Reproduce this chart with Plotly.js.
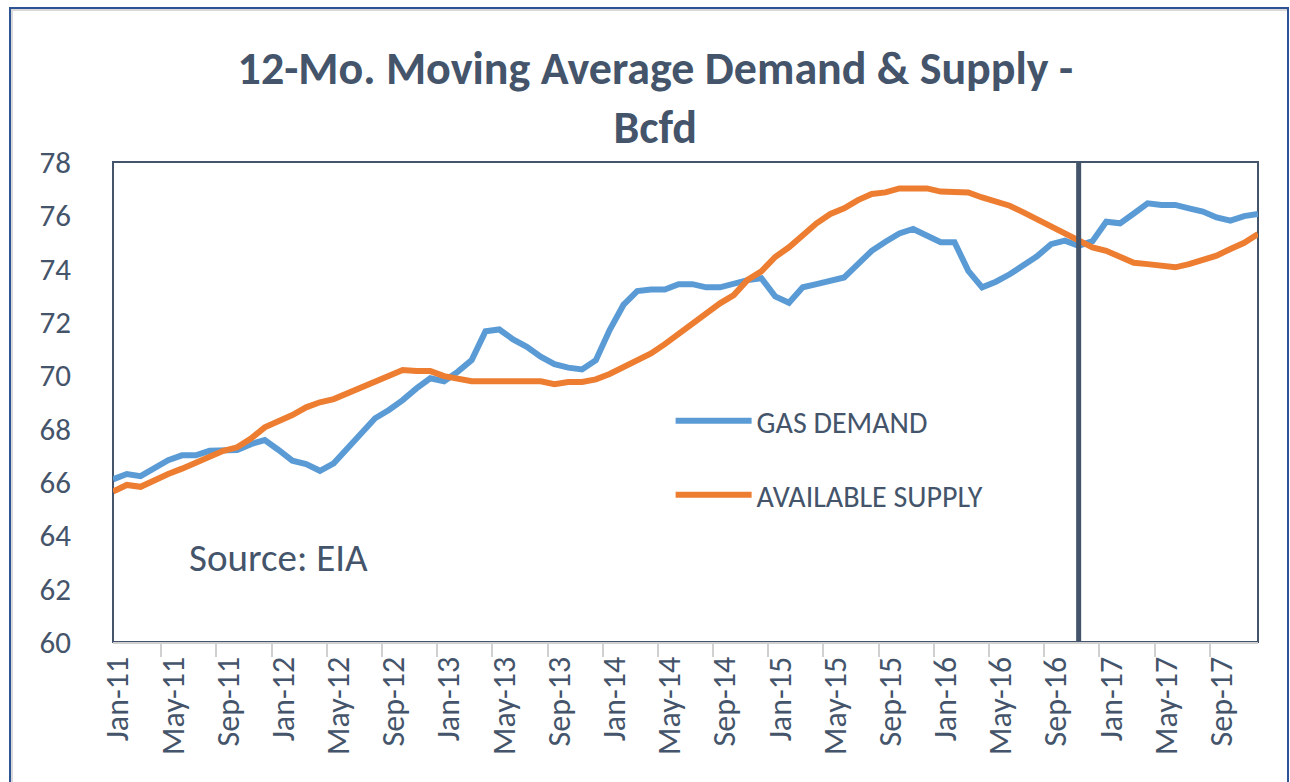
<!DOCTYPE html>
<html>
<head>
<meta charset="utf-8">
<script src="https://cdn.plot.ly/plotly-3.0.1.min.js"></script>
<style>
  html, body { margin: 0; padding: 0; background: #ffffff; }
  #frame { position: absolute; left: 9px; top: 7px; width: 1276px; height: 790px;
           border-left: 2px solid #2F5496; border-top: 2px solid #2F5496; border-right: 2px solid #2F5496;
           box-shadow: inset 2px 2px 0 #d9d9d9; }
  #chart { position: absolute; left: 0; top: 0; width: 1290px; height: 782px; }
</style>
</head>
<body>
<div id="frame"></div>
<div id="chart"></div>
<script>
// ---- data ----
const monthNames = ["Jan","Feb","Mar","Apr","May","Jun","Jul","Aug","Sep","Oct","Nov","Dec"];
const years = ["11","12","13","14","15","16","17"];
const months = [];
years.forEach(y => monthNames.forEach(m => months.push(m + "-" + y)));

const gasDemand = [
  66.10, 66.30, 66.22, 66.50, 66.82, 67.00, 67.00, 67.17, 67.17, 67.20, 67.42, 67.57,
  67.20, 66.80, 66.67, 66.42, 66.70, 67.26, 67.82, 68.39, 68.70, 69.07, 69.51, 69.89,
  69.78, 70.14, 70.57, 71.65, 71.72, 71.35, 71.07, 70.70, 70.42, 70.29, 70.22, 70.57,
  71.70, 72.64, 73.16, 73.22, 73.22, 73.42, 73.42, 73.30, 73.30, 73.45, 73.57, 73.64,
  72.96, 72.72, 73.30, 73.42, 73.55, 73.67, 74.17, 74.67, 75.01, 75.32, 75.49, 75.24,
  74.99, 74.99, 73.92, 73.30, 73.51, 73.79, 74.10, 74.47, 74.92, 75.05, 74.86, 75.03,
  75.76, 75.70, 76.07, 76.45, 76.39, 76.39, 76.26, 76.14, 75.92, 75.80, 75.97, 76.05
];
const availableSupply = [
  65.64, 65.89, 65.82, 66.07, 66.30, 66.50, 66.74, 66.95, 67.17, 67.30, 67.63, 68.05,
  68.26, 68.51, 68.80, 68.99, 69.11, 69.33, 69.51, 69.76, 69.95, 70.20, 70.16, 70.16,
  69.97, 69.85, 69.78, 69.78, 69.78, 69.78, 69.78, 69.78, 69.67, 69.75, 69.75, 69.85,
  70.05, 70.30, 70.55, 70.82, 71.17, 71.55, 71.89, 72.29, 72.70, 73.01, 73.58, 73.90,
  74.44, 74.80, 75.28, 75.70, 76.05, 76.26, 76.57, 76.80, 76.86, 77.01, 77.01, 77.01,
  76.89, 76.86, 76.86, 76.67, 76.49, 76.36, 76.11, 75.85, 75.59, 75.31, 75.03, 74.80,
  74.67, 74.47, 74.22, 74.17, 74.11, 74.05, 74.17, 74.36, 74.49, 74.74, 74.97, 75.30
];
const seriesNames = ["GAS DEMAND", "AVAILABLE SUPPLY"];
const markerMonth = "Nov-16";
const titleText = "12-Mo. Moving Average Demand &amp; Supply -<br>Bcfd";
const sourceText = "Source: EIA";

// ---- styling ----
const FONT = "Carlito, Calibri, Lato, sans-serif";
const TXT = "#44546A";

const traces = [
  { x: months, y: gasDemand, type: "scatter", mode: "lines", name: seriesNames[0],
    legendgroup: "a", line: { color: "#5B9BD5", width: 6 } },
  { x: months, y: availableSupply, type: "scatter", mode: "lines", name: seriesNames[1],
    legendgroup: "b", line: { color: "#ED7D31", width: 6 } }
];

const layout = {
  width: 1290, height: 782,
  paper_bgcolor: "rgba(0,0,0,0)", plot_bgcolor: "#ffffff",
  margin: { l: 113, r: 32, t: 162, b: 140, pad: 0 },
  font: { family: FONT, color: TXT },
  title: { text: titleText, font: { family: FONT, size: 46, color: TXT, weight: "bold" },
           xref: "container", x: 0.508, xanchor: "center",
           yref: "container", y: 0.893, yanchor: "middle" },
  showlegend: true,
  legend: { x: 0.487, y: 0.515, xanchor: "left", yanchor: "top",
            bgcolor: "rgba(0,0,0,0)", font: { family: FONT, size: 30, color: TXT },
            traceorder: "grouped", tracegroupgap: 32, itemwidth: 76 },
  xaxis: { type: "category", tickson: "boundaries", tickmode: "linear", tick0: 0, dtick: 4,
           tickangle: -90, ticks: "outside", ticklen: 13, tickwidth: 2, tickcolor: "#d0d0d0",
           showline: true, linecolor: "#d0d0d0", linewidth: 2, showgrid: false, zeroline: false,
           ticklabelshift: 5,
           tickfont: { family: FONT, size: 32, color: TXT }, fixedrange: true },
  yaxis: { range: [60, 78], tickmode: "linear", tick0: 60, dtick: 2, showgrid: false,
           zeroline: false, showline: false, ticks: "", ticklabelstandoff: 41,
           tickfont: { family: FONT, size: 31, color: TXT }, fixedrange: true },
  shapes: [
    { type: "rect", xref: "paper", yref: "paper", x0: 0, x1: 1, y0: 0, y1: 1,
      line: { color: "#44546A", width: 2 }, layer: "below" },
    { type: "line", xref: "x", yref: "paper", x0: markerMonth, x1: markerMonth, y0: 0, y1: 1,
      line: { color: "#44546A", width: 5 }, layer: "above" }
  ],
  annotations: [
    { text: sourceText, xref: "paper", yref: "paper", x: 0.065, y: 0.177,
      xanchor: "left", yanchor: "middle", showarrow: false,
      font: { family: FONT, size: 39, color: TXT } }
  ]
};

Plotly.newPlot("chart", traces, layout, { displayModeBar: false, staticPlot: true });
</script>
</body>
</html>
